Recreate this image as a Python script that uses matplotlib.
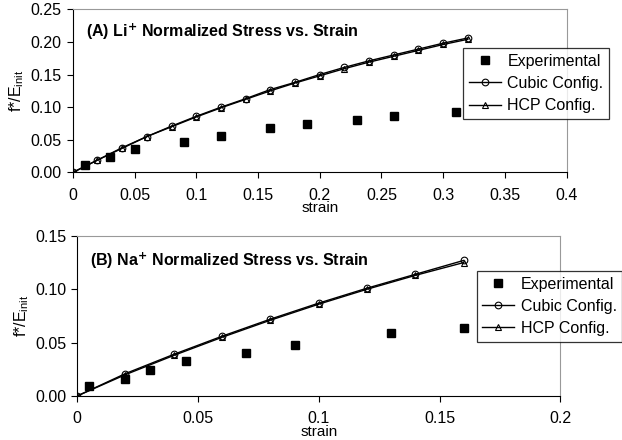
import numpy as np
import matplotlib
matplotlib.use("Agg")
import matplotlib.pyplot as plt
from matplotlib import rcParams

rcParams['font.family'] = ['Liberation Sans', 'DejaVu Sans']
rcParams['mathtext.default'] = 'regular'
rcParams['font.size'] = 11.5

# (A) Li+ data
li_exp_x = [0.01, 0.03, 0.05, 0.09, 0.12, 0.16, 0.19, 0.23, 0.26, 0.31]
li_exp_y = [0.012, 0.024, 0.036, 0.047, 0.056, 0.068, 0.074, 0.080, 0.086, 0.092]
li_sim_x = [0, 0.02, 0.04, 0.06, 0.08, 0.10, 0.12, 0.14, 0.16, 0.18,
            0.20, 0.22, 0.24, 0.26, 0.28, 0.30, 0.32]
li_cubic = [0, 0.019, 0.038, 0.055, 0.071, 0.086, 0.100, 0.113, 0.127, 0.138,
            0.150, 0.161, 0.171, 0.180, 0.189, 0.198, 0.206]
li_hcp = [0, 0.019, 0.037, 0.055, 0.070, 0.085, 0.099, 0.112, 0.125, 0.137,
          0.148, 0.159, 0.169, 0.178, 0.187, 0.196, 0.204]

# (B) Na+ data
na_exp_x = [0.005, 0.02, 0.03, 0.045, 0.07, 0.09, 0.13, 0.16]
na_exp_y = [0.009, 0.016, 0.024, 0.033, 0.040, 0.048, 0.059, 0.064]
na_sim_x = [0, 0.02, 0.04, 0.06, 0.08, 0.10, 0.12, 0.14, 0.16]
na_cubic = [0, 0.021, 0.039, 0.056, 0.072, 0.087, 0.101, 0.114, 0.127]
na_hcp = [0, 0.020, 0.038, 0.055, 0.071, 0.086, 0.100, 0.113, 0.125]


def panel(ax, ex, ey, sx, cub, hcp, title, title_y, xmax, xticks, xlabels,
          ymax, yticks, leg_box):
    ax.plot(ex, ey, ls='none', marker='s', ms=5.5, color='k', label='Experimental')
    ax.plot(sx, cub, color='k', lw=1, marker='o', ms=4.8, mfc='none', mec='k',
            mew=0.8, label='Cubic Config.')
    ax.plot(sx, hcp, color='k', lw=1, marker='^', ms=4.8, mfc='none', mec='k',
            mew=0.8, label='HCP Config.')
    ax.set_xlim(0, xmax)
    ax.set_ylim(0, ymax)
    ax.set_xticks(xticks)
    ax.set_xticklabels(xlabels)
    ax.set_yticks(yticks)
    ax.set_yticklabels(["%.2f" % v for v in yticks])
    ax.tick_params(direction='out', length=4, width=0.8, labelsize=11.5, pad=4)
    ax.tick_params(axis='x', pad=7)
    for s in ['top', 'right']:
        ax.spines[s].set_color('#999999')
    for s in ['left', 'bottom']:
        ax.spines[s].set_color('k')
    ax.set_xlabel('strain', fontsize=11, labelpad=-1)
    ax.set_ylabel(r'f*/E$_{init}$', fontsize=11.5, labelpad=3)
    ax.text(0.027, title_y, title, transform=ax.transAxes, fontsize=11.5,
            fontweight='bold', va='center', ha='left')
    leg = ax.legend(loc='upper left', bbox_to_anchor=leg_box, frameon=True,
                    fancybox=False, edgecolor='k', fontsize=11.5,
                    borderpad=0.35, labelspacing=0.45, handlelength=2.0,
                    handletextpad=0.4, borderaxespad=0)
    leg.get_frame().set_linewidth(0.9)


fig = plt.figure(figsize=(6.22, 4.40), dpi=100)
ax1 = fig.add_axes([0.117, 0.608, 0.794, 0.371])
ax2 = fig.add_axes([0.124, 0.100, 0.777, 0.364])

panel(ax1, li_exp_x, li_exp_y, li_sim_x, li_cubic, li_hcp,
      r'(A) Li$^{\mathbf{+}}$ Normalized Stress vs. Strain', 0.86,
      0.4, [0, 0.05, 0.1, 0.15, 0.2, 0.25, 0.3, 0.35, 0.4],
      ['0', '0.05', '0.1', '0.15', '0.2', '0.25', '0.3', '0.35', '0.4'],
      0.25, [0, 0.05, 0.10, 0.15, 0.20, 0.25], (0.791, 0.761))

panel(ax2, na_exp_x, na_exp_y, na_sim_x, na_cubic, na_hcp,
      r'(B) Na$^{\mathbf{+}}$ Normalized Stress vs. Strain', 0.845,
      0.2, [0, 0.05, 0.1, 0.15, 0.2],
      ['0', '0.05', '0.1', '0.15', '0.2'],
      0.15, [0, 0.05, 0.10, 0.15], (0.827, 0.78))

fig.savefig("out.png", dpi=100)
